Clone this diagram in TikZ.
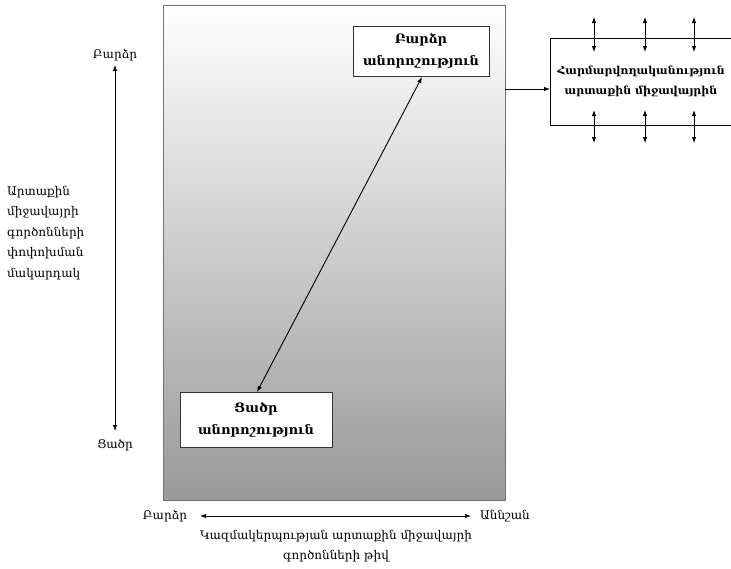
\documentclass[tikz,border=0pt]{standalone}
\usepackage{fontspec}
\setmainfont{DejaVu Serif}
\usetikzlibrary{arrows.meta}
\begin{document}
\begin{tikzpicture}[x=1pt,y=-1pt,
  txt/.style={font=\fontsize{12}{20.5}\selectfont, inner sep=0pt, align=center},
  boxlabel/.style={draw=black!80, fill=white, line width=0.7pt, font=\bfseries\fontsize{13}{22}\selectfont, align=center, inner sep=0pt},
  tip/.tip={Latex[length=6pt,width=4.5pt]},
  arr/.style={line width=0.9pt, tip-tip},
  onearr/.style={line width=0.9pt, -tip}]
\useasboundingbox (0,0) rectangle (731,568);

% environment panel with vertical gradient
\node[draw=black!55, line width=0.8pt, top color=white, bottom color=black!40,
      minimum width=342pt, minimum height=495pt, inner sep=0pt] (env) at (334,252.5) {};

% uncertainty boxes
\node[boxlabel, minimum width=136pt, minimum height=50pt] (high) at (421,51)
  {Բարձր\\անորոշություն};
\node[boxlabel, minimum width=152pt, minimum height=55pt] (low) at (256,419.5)
  {Ցածր\\անորոշություն};
\coordinate (lt) at (257,392);
\coordinate (hb) at (422,77);
\draw[arr] (lt) -- (hb);

% adaptation box, open on the right
\node[font=\bfseries\fontsize{11}{20}\selectfont, align=center, inner sep=0pt] (adapt) at (641,81)
  {Հարմարվողականություն\\արտաքին միջավայրին};
\draw[line width=0.8pt] (731,38) -- (550,38) -- (550,125) -- (731,125);
\coordinate (aIn) at (550,89);
\coordinate (eOut) at (505,89);
\draw[onearr] (eOut) -- (aIn);
\foreach \xx in {594,645,694}{
  \coordinate (t1) at (\xx,17);
  \coordinate (t2) at (\xx,52);
  \coordinate (b1) at (\xx,110);
  \coordinate (b2) at (\xx,143);
  \draw[arr] (t1) -- (t2);
  \draw[arr] (b1) -- (b2);
}

% vertical scale
\node[txt] (vhigh) at (115,55) {Բարձր};
\node[txt] (vlow) at (115,445) {Ցածր};
\coordinate (vt) at (115,65);
\coordinate (vb) at (115,431);
\draw[arr] (vt) -- (vb);
\node[txt, align=left, anchor=north west] (vtitle) at (7,186)
  {Արտաքին\\միջավայրի\\գործոնների\\փոփոխման\\մակարդակ};

% horizontal scale
\node[txt] (hhigh) at (165,516) {Բարձր};
\node[txt] (hlow) at (505,516) {Աննշան};
\coordinate (hl) at (200,516);
\coordinate (hr) at (471,516);
\draw[arr] (hl) -- (hr);
\node[txt] (htitle) at (336,546) {Կազմակերպության արտաքին միջավայրի\\գործոնների թիվ};
\end{tikzpicture}
\end{document}
